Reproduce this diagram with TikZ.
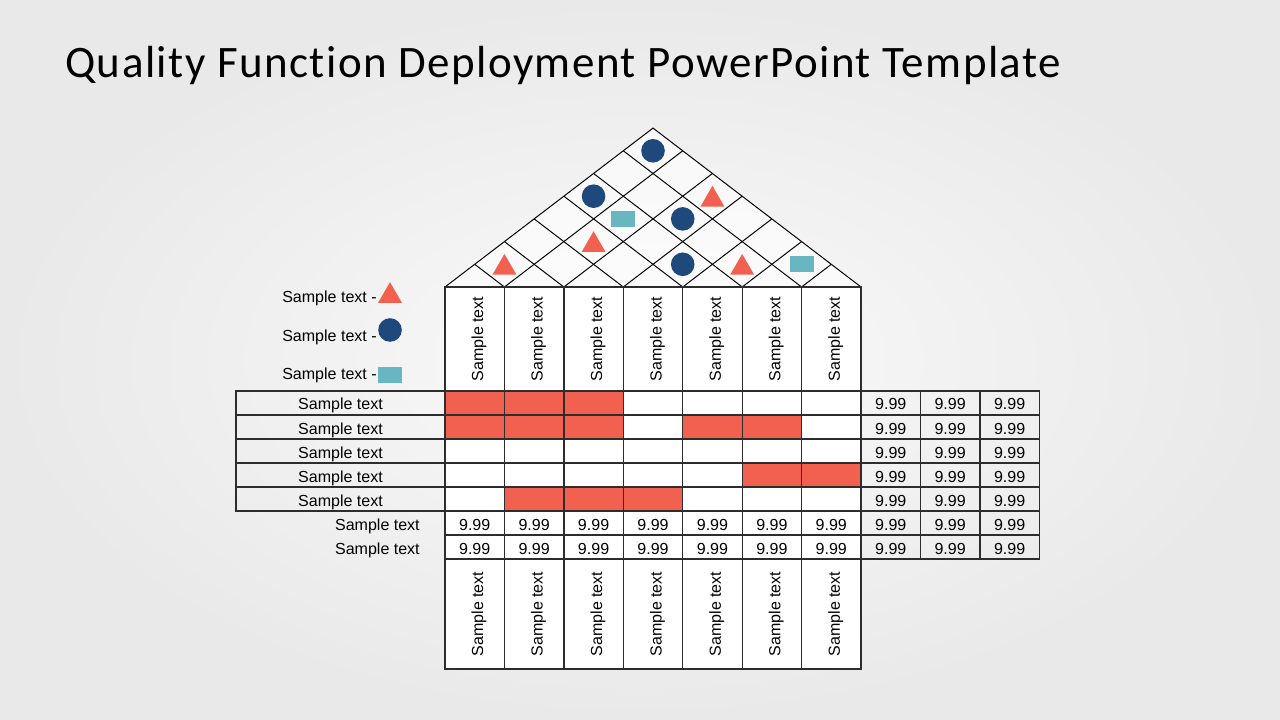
\documentclass[tikz,border=0pt]{standalone}
\usepackage{fontspec}
\setmainfont{Liberation Sans}
\newfontfamily\titlefont[Ligatures=NoCommon, LetterSpace=3.2]{Carlito}
\usetikzlibrary{shapes.geometric}
\definecolor{hqred}{RGB}{242,97,80}
\definecolor{hqnavy}{RGB}{31,73,125}
\definecolor{hqteal}{RGB}{104,182,194}
\definecolor{hqline}{RGB}{45,45,45}
\definecolor{bgin}{RGB}{250,250,250}
\definecolor{bgout}{RGB}{233,233,233}

\begin{document}
\begin{tikzpicture}[x=0.025cm, y=-0.025cm,
    cell/.style={draw=hqline, line width=0.9pt},
    roof/.style={draw=black, line width=0.7pt},
    lbl/.style={font=\fontsize{11.4}{13}\selectfont, inner sep=0pt, anchor=base},
    vlbl/.style={lbl, rotate=90},
    qtri/.style={regular polygon, regular polygon sides=3, fill=hqred, minimum size=0.69cm, inner sep=0pt, yshift=-0.086cm},
    qdot/.style={circle, fill=hqnavy, minimum size=0.59cm, inner sep=0pt},
    qbar/.style={rectangle, fill=hqteal, minimum width=0.6cm, minimum height=0.4cm, inner sep=0pt}]

    \def\cw{59.43}
    \def\dy{22.7}
    \fill[inner color=bgin, outer color=bgout] (0,0) rectangle (1280,720);
    \useasboundingbox (0,0) rectangle (1280,720);

    \node[anchor=base west, inner sep=0pt, font=\titlefont\fontsize{32}{36}\selectfont] (title) at (65,78) {Quality Function Deployment PowerPoint Template};

    % roof
    \fill[white, opacity=0.6] (445,287) -- ({445+3.5*\cw},{287-7*\dy}) -- (861,287) -- cycle;
    \draw[roof] (445,287) -- ({445+3.5*\cw},{287-7*\dy}) -- ({445+7*\cw},287);
    \foreach \i in {1,...,6} {
        \draw[roof] ({445+\i*\cw},287) -- ({445+\i*\cw/2},{287-\i*\dy});
        \draw[roof] ({445+\i*\cw},287) -- ({445+7*\cw-(7-\i)*\cw/2},{287-(7-\i)*\dy});
    }
    \foreach \k/\m in {1/2, 1/10, 2/5, 4/9}
        \node[qtri] (rt\k\m) at ({445+\m*\cw/2},{287-\k*\dy}) {};
    \foreach \k/\m in {1/8, 3/8, 4/5, 6/7}
        \node[qdot] (rd\k\m) at ({445+\m*\cw/2},{287-\k*\dy}) {};
    \foreach \k/\m in {1/12, 3/6}
        \node[qbar] (rb\k\m) at ({445+\m*\cw/2},{287-\k*\dy}) {};

    % legend
    \node[lbl, anchor=base west] (leg1) at (282,303) {Sample text -};
    \node[lbl, anchor=base west] (leg2) at (282,341.5) {Sample text -};
    \node[lbl, anchor=base west] (leg3) at (282,380) {Sample text -};
    \node[qtri] (legtri) at (390,292.5) {};
    \node[qdot] (legdot) at (390,330) {};
    \node[qbar] (legbar) at (390,375) {};

    % matrix
    \fill[white] (445,287) rectangle ({445+7*\cw},669);
    \foreach \r/\c in {0/0, 0/1, 0/2, 1/0, 1/1, 1/2, 1/4, 1/5, 3/5, 3/6, 4/1, 4/2, 4/3}
        \fill[hqred] ({445+\c*\cw},{391+\r*24}) rectangle ++(\cw,24);
    \foreach \i in {0,...,6} {
        \draw[cell] ({445+\i*\cw},287) rectangle ++(\cw,104);
        \draw[cell] ({445+\i*\cw},559) rectangle ++(\cw,110);
        \node[vlbl] (hd\i) at ({445+(\i+0.5)*\cw+8.5},339) {Sample text};
        \node[vlbl] (ft\i) at ({445+(\i+0.5)*\cw+8.5},614) {Sample text};
    }
    \foreach \r in {0,...,6}
        \foreach \c in {0,...,9}
            \draw[cell] ({445+\c*\cw},{391+\r*24}) rectangle ++(\cw,24);
    \foreach \r in {0,...,4} {
        \draw[cell] (236,{391+\r*24}) rectangle ++(209,24);
        \node[lbl] (req\r) at (340.5,{410+\r*24}) {Sample text};
        \foreach \c in {7,8,9}
            \node[lbl] (v\r\c) at ({445+(\c+0.5)*\cw},{410+\r*24}) {9.99};
    }
    \foreach \r in {5,6} {
        \node[lbl, anchor=base east] (req\r) at (420,{410+\r*24}) {Sample text};
        \foreach \c in {0,...,9}
            \node[lbl] (v\r\c) at ({445+(\c+0.5)*\cw},{410+\r*24}) {9.99};
    }
\end{tikzpicture}
\end{document}
